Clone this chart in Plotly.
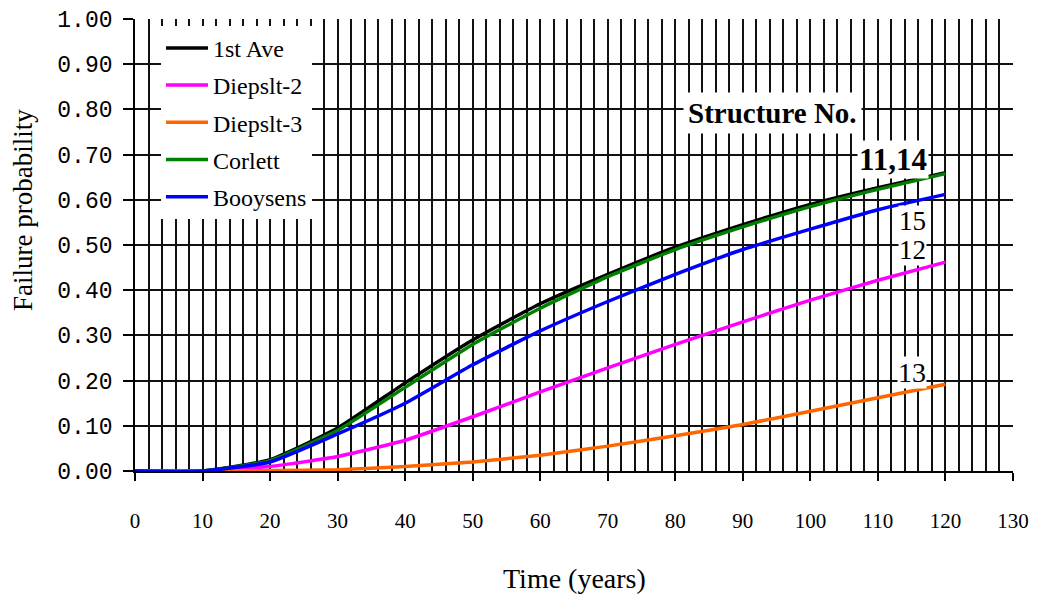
import plotly.graph_objects as go

years = [0, 10, 20, 30, 40, 50, 60, 70, 80, 90, 100, 110, 120]
first_ave = [0, 0, 0.025, 0.095, 0.195, 0.29, 0.37, 0.435, 0.495, 0.545, 0.59, 0.627, 0.66]
diepslt_2 = [0, 0, 0.01, 0.032, 0.068, 0.12, 0.175, 0.228, 0.28, 0.33, 0.378, 0.422, 0.462]
diepslt_3 = [0, 0, 0.001, 0.003, 0.01, 0.02, 0.035, 0.055, 0.078, 0.103, 0.132, 0.162, 0.192]
corlett = [0, 0, 0.023, 0.09, 0.185, 0.28, 0.36, 0.43, 0.49, 0.54, 0.585, 0.623, 0.658]
booysens = [0, 0, 0.02, 0.082, 0.15, 0.235, 0.31, 0.375, 0.435, 0.49, 0.535, 0.578, 0.612]

series = [
    ("1st Ave", first_ave, "#000000"),
    ("Diepslt-2", diepslt_2, "#FF00FF"),
    ("Diepslt-3", diepslt_3, "#FF6600"),
    ("Corlett", corlett, "#008000"),
    ("Booysens", booysens, "#0000FF"),
]

labels = ["Structure No.", "11,14", "15", "12", "13"]
label_x = [94.4, 112.2, 115.1, 115.1, 115.0]
label_y = [0.792, 0.690, 0.553, 0.488, 0.219]

x_title = "Time (years)"
y_title = "Failure probability"

W, H = 1038, 597
ML, MR, MT, MB = 135, 25, 19, 126
plot_w = W - ML - MR
plot_h = H - MT - MB


def px_to_paper(px, py):
    return (px - ML) / plot_w, (H - MB - py) / plot_h


fig = go.Figure()
for name, vals, col in series:
    fig.add_trace(go.Scatter(
        x=years, y=vals, mode="lines", name=name, legendgroup=name,
        line=dict(color=col, width=3.5, shape="spline", smoothing=0.5),
    ))

serif = "Liberation Serif"
label_sizes = [29, 31, 27, 27, 28]
label_bold = [True, True, False, False, False]
label_pad = [4, 1, 0, 0, 0]
for t, lx, ly, sz, b, pad in zip(labels, label_x, label_y, label_sizes, label_bold, label_pad):
    fig.add_annotation(
        x=lx, y=ly, xref="x", yref="y", text=f"<b>{t}</b>" if b else t,
        showarrow=False, bgcolor="white", borderpad=pad,
        font=dict(family=serif, size=sz, color="black"),
    )

yx, yy = px_to_paper(23, 210)
fig.add_annotation(
    x=yx, y=yy, xref="paper", yref="paper", text=y_title,
    showarrow=False, textangle=-90, xanchor="center", yanchor="middle",
    font=dict(family=serif, size=27, color="black"),
)
xx, xy = px_to_paper(574, 578)
fig.add_annotation(
    x=xx, y=xy, xref="paper", yref="paper", text=x_title,
    showarrow=False, xanchor="center", yanchor="middle",
    font=dict(family=serif, size=28, color="black"),
)

gridcol = "#111111"
gw = 1.8
fig.update_layout(
    width=W, height=H,
    margin=dict(l=ML, r=MR, t=MT, b=MB, autoexpand=False),
    paper_bgcolor="white", plot_bgcolor="white",
    font=dict(family=serif, color="black"),
    showlegend=True,
    legend=dict(
        x=0.0296, y=0.985, xanchor="left", yanchor="top",
        bgcolor="white", borderwidth=0,
        font=dict(family=serif, size=24, color="black"),
        tracegroupgap=3, itemwidth=42,
    ),
    xaxis=dict(
        range=[0, 130], tickmode="linear", tick0=0, dtick=10,
        ticks="outside", ticklen=8, tickwidth=gw, tickcolor="black",
        showline=True, linecolor="black", linewidth=gw,
        tickfont=dict(family=serif, size=21), ticklabelstandoff=22,
        minor=dict(dtick=2, showgrid=True, gridcolor=gridcol, gridwidth=gw),
        zeroline=False, showgrid=True, gridcolor=gridcol, gridwidth=gw,
        automargin=False,
    ),
    yaxis=dict(
        range=[0, 1], tickmode="linear", tick0=0, dtick=0.1, tickformat=".2f",
        ticks="outside", ticklen=10, tickwidth=gw, tickcolor="black",
        showline=True, linecolor="black", linewidth=gw,
        tickfont=dict(family="Liberation Mono", size=23), ticklabelstandoff=6,
        zeroline=False, showgrid=True, gridcolor=gridcol, gridwidth=gw,
        automargin=False,
    ),
)

fig.write_html("out.html")
